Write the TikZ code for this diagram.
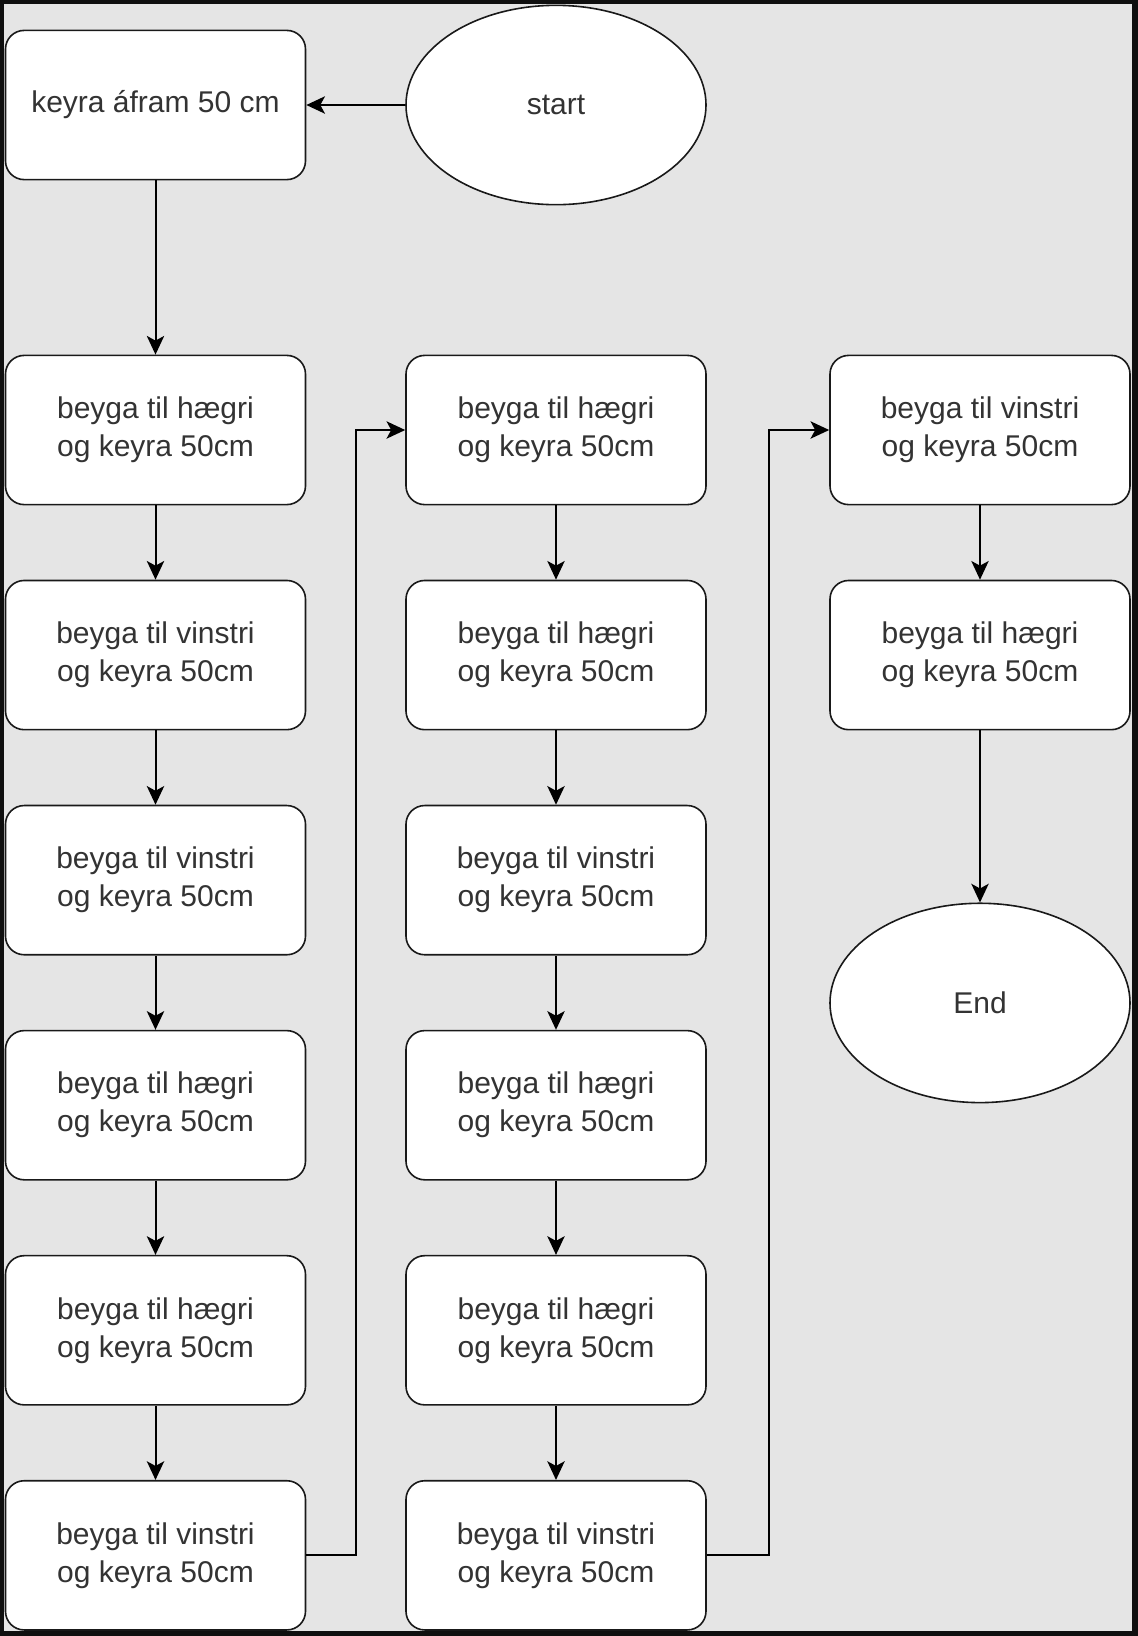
\documentclass[tikz,border=0pt]{standalone}
\usepackage{fontspec}
\setmainfont{Liberation Sans}
\usepackage{tikz}
\usetikzlibrary{positioning,shapes.geometric,arrows.meta}
\definecolor{bggray}{HTML}{E5E5E5}
\definecolor{txtgray}{HTML}{333333}
\definecolor{framegray}{HTML}{0F0F0F}

\begin{document}
\begin{tikzpicture}[
    x=0.75pt, y=-0.75pt,
    >={Stealth[length=14pt,width=13pt,inset=3.5pt]},
    every path/.style={line width=1.5pt},
    every node/.style={font=\fontsize{22.5}{28.5}\selectfont, text=txtgray, align=center,
        draw=black!90, line width=1.2pt, fill=white, node distance=55.7pt},
    stepbox/.style={rectangle, rounded corners=14pt, minimum width=225pt, minimum height=111.9pt},
    terminal/.style={ellipse, inner sep=0pt, minimum width=225pt, minimum height=149.5pt}]

    % frame and canvas
    \fill[framegray] (0,0) rectangle (1138,1636);
    \fill[bggray] (4,4) rectangle (1132,1631);

    \node[terminal] (start) at (556,105) {start};
    \node[stepbox] (fwd) at (155.5,105) {keyra áfram 50 cm};

    % first column
    \node[stepbox] (a1) at (155.5,430) {beyga til hægri\\og keyra 50cm};
        \node[stepbox, below=of a1] (a2) {beyga til vinstri\\og keyra 50cm};
        \node[stepbox, below=of a2] (a3) {beyga til vinstri\\og keyra 50cm};
        \node[stepbox, below=of a3] (a4) {beyga til hægri\\og keyra 50cm};
        \node[stepbox, below=of a4] (a5) {beyga til hægri\\og keyra 50cm};
        \node[stepbox, below=of a5] (a6) {beyga til vinstri\\og keyra 50cm};

    % second column
    \node[stepbox] (b1) at (556,430) {beyga til hægri\\og keyra 50cm};
        \node[stepbox, below=of b1] (b2) {beyga til hægri\\og keyra 50cm};
        \node[stepbox, below=of b2] (b3) {beyga til vinstri\\og keyra 50cm};
        \node[stepbox, below=of b3] (b4) {beyga til hægri\\og keyra 50cm};
        \node[stepbox, below=of b4] (b5) {beyga til hægri\\og keyra 50cm};
        \node[stepbox, below=of b5] (b6) {beyga til vinstri\\og keyra 50cm};

    % third column
    \node[stepbox] (c1) at (980,430) {beyga til vinstri\\og keyra 50cm};
        \node[stepbox, below=of c1] (c2) {beyga til hægri\\og keyra 50cm};
        \node[terminal, below=129pt of c2] (end) {End};

    \draw[->] (start) -- (fwd);
    \draw[->] (fwd) -- (a1);
    \foreach \u/\v in {a1/a2, a2/a3, a3/a4, a4/a5, a5/a6,
                       b1/b2, b2/b3, b3/b4, b4/b5, b5/b6, c1/c2, c2/end}
        \draw[->] (\u) -- (\v);
    \draw[->] (a6.east) -- ++(50,0) |- (b1.west);
    \draw[->] (b6.east) -- ++(62,0) |- (c1.west);

\end{tikzpicture}
\end{document}
